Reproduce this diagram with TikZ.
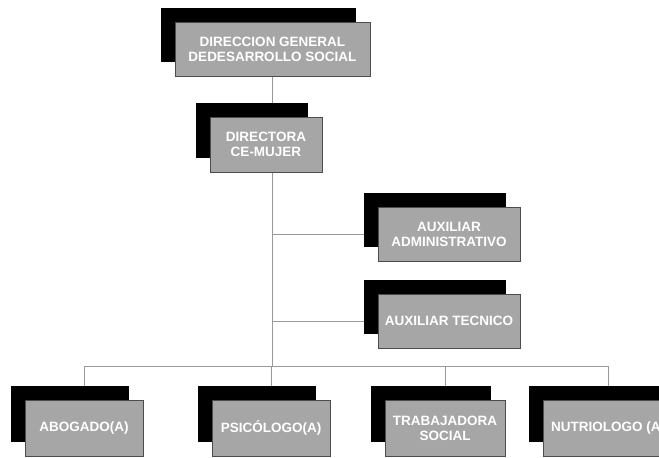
\documentclass[tikz,border=0pt]{standalone}
\usepackage{fontspec}
\setmainfont{Liberation Sans}
\usetikzlibrary{shapes,shadows,backgrounds}

\begin{document}
\begin{tikzpicture}[x=1pt, y=-1pt,
    cargo/.style={draw=black!70, fill=black!35, text=white, align=center, inner sep=2pt,
        font=\bfseries\fontsize{13.5}{15}\selectfont, minimum height=54pt,
        drop shadow={shadow xshift=-14pt, shadow yshift=14pt, fill=black, opacity=1}},
    linea/.style={draw=black!40, thin}]
\useasboundingbox (0,0) rectangle (659,458);
\clip (0,0) rectangle (659,458);
%============
\node[cargo, minimum width=195pt] (dgds) at (272.5,49) {DIRECCION GENERAL\\DEDESARROLLO SOCIAL};
\node[cargo, minimum width=112pt, minimum height=55pt] (dir) at (266,144.5) {DIRECTORA\\CE-MUJER};
\node[cargo, minimum width=142pt] (aadm) at (449,234) {AUXILIAR\\ADMINISTRATIVO};
\node[cargo, minimum width=142pt] (atec) at (449,321) {AUXILIAR TECNICO};
%============
\node[cargo, minimum width=118pt, minimum height=56pt] (abog) at (84,428) {ABOGADO(A)};
\node[cargo, minimum width=118pt, minimum height=56pt] (psic) at (271,428) {PSICÓLOGO(A)};
\node[cargo, minimum width=120pt, minimum height=56pt] (trab) at (445,428) {TRABAJADORA\\SOCIAL};
\node[cargo, minimum width=130pt, minimum height=56pt] (nutr) at (608,428) {NUTRIOLOGO (A)};
\coordinate (bus) at (272,366);
%==========
\begin{scope}[on background layer]
    \draw[linea] (dgds.south -| bus) -- (bus);
    \draw[linea] (aadm.west) -- (aadm.west -| bus);
    \draw[linea] (atec.west) -- (atec.west -| bus);
    \draw[linea] (abog) |- (bus);
    \draw[linea] (psic) |- (bus);
    \draw[linea] (trab) |- (bus);
    \draw[linea] (nutr) |- (bus);
\end{scope}
\end{tikzpicture}
\end{document}
